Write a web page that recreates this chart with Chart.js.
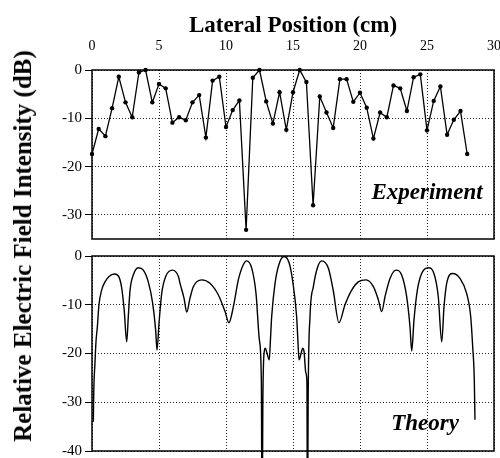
<!DOCTYPE html>
<html>
<head>
<meta charset="utf-8">
<script src="https://cdn.jsdelivr.net/npm/chart.js@4.4.0/dist/chart.umd.min.js"></script>
<style>
    body { margin: 0; background: #fff; }
    #wrap { position: relative; width: 500px; height: 458px; overflow: hidden; }
    #topChart { position: absolute; left: 0; top: 0; }
    #bottomChart { position: absolute; left: 0; top: 245px; }
    #yTitle {
        position: absolute; left: 23px; top: 246px;
        transform: translate(-50%, -50%) rotate(-90deg);
        font: bold 25px "Liberation Serif", serif; white-space: nowrap; color: #000;
    }
</style>
</head>
<body>
<div id="wrap">
    <canvas id="topChart" width="500" height="243"></canvas>
    <canvas id="bottomChart" width="500" height="213"></canvas>
    <div id="yTitle">Relative Electric Field Intensity (dB)</div>
</div>
<script>
// Tick labels
const xTicks = [0, 5, 10, 15, 20, 25, 30];
const topYTicks = [0, -10, -20, -30];
const bottomYTicks = [0, -10, -20, -30, -40];

// Experiment (measured every 0.5 cm)
const expPos = [0, 0.5, 1, 1.5, 2, 2.5, 3, 3.5, 4, 4.5, 5, 5.5, 6, 6.5, 7, 7.5, 8, 8.5, 9, 9.5,
    10, 10.5, 11, 11.5, 12, 12.5, 13, 13.5, 14, 14.5, 15, 15.5, 16, 16.5, 17, 17.5, 18, 18.5, 19, 19.5,
    20, 20.5, 21, 21.5, 22, 22.5, 23, 23.5, 24, 24.5, 25, 25.5, 26, 26.5, 27, 27.5, 28];
const expDb = [-17.4, -12.2, -13.7, -7.9, -1.4, -6.7, -9.8, -0.5, 0, -6.7, -2.9, -3.8, -10.9, -9.8, -10.4, -6.7, -5.2, -14.0, -2.2, -1.4,
    -11.8, -8.3, -6.3, -33.1, -1.6, 0, -6.5, -11.1, -4.6, -12.4, -4.6, 0, -2.5, -28.0, -5.5, -8.8, -12.0, -1.9, -1.9, -6.6,
    -4.7, -7.8, -14.2, -8.8, -9.8, -3.2, -3.8, -8.5, -1.5, -0.9, -12.5, -6.4, -3.4, -13.4, -10.3, -8.5, -17.4];

// Theory
const theoryPos = [0.10, 0.13, 0.22, 0.30, 0.40, 0.52, 0.72, 0.97, 1.27, 1.67, 1.97, 2.20, 2.40, 2.59, 2.71, 2.84, 3.08, 3.46, 3.83,
    4.20, 4.53, 4.75, 4.85, 5.00, 5.20, 5.50, 6.00, 6.45, 6.57, 6.87, 7.07, 7.31, 7.56, 8.19, 8.80, 9.43, 9.93, 10.22,
    10.55, 10.92, 11.29, 11.54, 11.92, 12.24, 12.49, 12.64, 12.69, 12.75, 12.86, 12.93, 13.05, 13.23, 13.32, 13.41, 13.66,
    13.98, 14.33, 14.72, 15.00, 15.27, 15.36, 15.45, 15.62, 15.72, 15.82, 15.96, 16.04, 16.08, 16.13, 16.27, 16.52,
    16.81, 17.14, 17.64, 18.00, 18.43, 18.88, 19.38, 19.87, 20.45, 21.00, 21.37, 21.62, 21.87, 22.24, 22.69, 23.11,
    23.48, 23.73, 23.86, 24.03, 24.28, 24.60, 25.10, 25.52, 25.84, 26.10, 26.27, 26.47, 26.92, 27.46, 27.96, 28.26,
    28.41, 28.53, 28.58];
const theoryDb = [-34.0, -28.0, -22.0, -17.5, -14.5, -10.0, -7.0, -5.3, -4.2, -3.7, -4.1, -6.3, -11.0, -17.6, -12.4, -7.0, -3.9, -2.4, -2.9,
    -5.3, -9.7, -15.2, -19.3, -13.8, -7.7, -4.2, -2.9, -4.2, -5.6, -8.7, -11.5, -8.7, -6.3, -4.9, -5.6, -8.0, -11.4, -13.7,
    -10.4, -4.9, -1.8, -1.0, -2.5, -7.7, -17.2, -26.0, -60, -30.0, -19.5, -18.9, -19.8, -21.3, -17.0, -12.4, -5.6,
    -1.5, -0.1, -1.5, -5.6, -12.4, -17.0, -21.3, -19.8, -18.9, -19.5, -24.0, -26.0, -60, -30.0, -12.4, -6.3,
    -2.5, -1.0, -2.5, -7.0, -13.7, -10.0, -7.0, -5.3, -4.9, -6.3, -9.0, -11.4, -8.3, -4.6, -2.9, -3.9,
    -8.3, -14.5, -19.5, -13.1, -7.0, -3.6, -2.4, -3.6, -8.3, -17.6, -10.4, -5.6, -3.6, -4.6, -7.7, -12.4,
    -18.6, -25.4, -33.6];

const serif = '"Liberation Serif", "Times New Roman", serif';

const framePlugin = {
    id: 'frame',
    afterDatasetsDraw(chart, args, opts) {
        const { ctx, chartArea: a, scales } = chart;
        ctx.save();
        ctx.strokeStyle = '#000';
        ctx.lineWidth = 1.5;
        ctx.strokeRect(a.left, a.top, a.right - a.left, a.bottom - a.top);
        if (opts.label) {
            ctx.font = 'italic bold 23px ' + serif;
            ctx.fillStyle = '#000';
            ctx.textAlign = 'center';
            ctx.textBaseline = 'middle';
            ctx.fillText(opts.label, scales.x.getPixelForValue(opts.at[0]), scales.y.getPixelForValue(opts.at[1]));
        }
        ctx.restore();
    }
};

function makeXScale(position, showLabels, title) {
    return {
        type: 'linear',
        position: position,
        min: 0,
        max: 30,
        afterBuildTicks: s => { s.ticks = xTicks.map(v => ({ value: v })); },
        afterFit: s => {
            s.height = showLabels ? 70 : 7;
            s.paddingLeft = 0;
            s.paddingRight = 0;
        },
        grid: { color: '#222', lineWidth: 1, drawTicks: false, borderDash: [1, 2] },
        border: { display: false, dash: [1, 2] },
        ticks: { display: showLabels, padding: 15, color: '#000', font: { family: serif, size: 14 } },
        title: {
            display: !!title,
            text: title,
            color: '#000',
            font: { family: serif, size: 23, weight: 'bold' },
            padding: { top: 12, bottom: 0 }
        }
    };
}

function makeYScale(min, ticks) {
    return {
        type: 'linear',
        min: min,
        max: 0,
        afterBuildTicks: s => { s.ticks = ticks.map(v => ({ value: v })); },
        afterFit: s => {
            s.width = 92;
            s.paddingTop = 0;
            s.paddingBottom = 0;
        },
        grid: { color: '#222', lineWidth: 1, drawTicks: true, tickLength: 7, tickColor: '#000', tickWidth: 1, tickBorderDash: [], borderDash: [1, 2] },
        border: { display: false, dash: [1, 2] },
        ticks: { padding: 3, color: '#000', font: { family: serif, size: 15 } }
    };
}

const baseOptions = {
    responsive: false,
    animation: false,
    events: [],
    plugins: { legend: { display: false }, tooltip: { enabled: false } }
};

document.addEventListener('DOMContentLoaded', function() {
    new Chart(document.getElementById('topChart'), {
        type: 'line',
        data: {
            datasets: [{
                data: expPos.map((x, i) => ({ x: x, y: expDb[i] })),
                borderColor: '#000',
                borderWidth: 1.3,
                pointRadius: 2.2,
                pointBackgroundColor: '#000',
                pointBorderWidth: 0,
                tension: 0,
                clip: 4
            }]
        },
        options: Object.assign({}, baseOptions, {
            layout: { padding: { left: 0, right: 6, top: 0, bottom: 2 } },
            scales: {
                x: makeXScale('top', true, 'Lateral Position (cm)'),
                y: makeYScale(-35, topYTicks)
            },
            plugins: Object.assign({}, baseOptions.plugins, { frame: { label: 'Experiment', at: [25, -25.5] } })
        }),
        plugins: [framePlugin]
    });

    new Chart(document.getElementById('bottomChart'), {
        type: 'line',
        data: {
            datasets: [{
                data: theoryPos.map((x, i) => ({ x: x, y: theoryDb[i] })),
                borderColor: '#000',
                borderWidth: 1.4,
                pointRadius: 0,
                cubicInterpolationMode: 'monotone',
                clip: { left: 0, top: 2, right: 0, bottom: 7 }
            }]
        },
        options: Object.assign({}, baseOptions, {
            layout: { padding: { left: 0, right: 6, top: 11, bottom: 0 } },
            scales: {
                x: makeXScale('bottom', false, ''),
                y: makeYScale(-40, bottomYTicks)
            },
            plugins: Object.assign({}, baseOptions.plugins, { frame: { label: 'Theory', at: [24.85, -34.5] } })
        }),
        plugins: [framePlugin]
    });
});
</script>
</body>
</html>
